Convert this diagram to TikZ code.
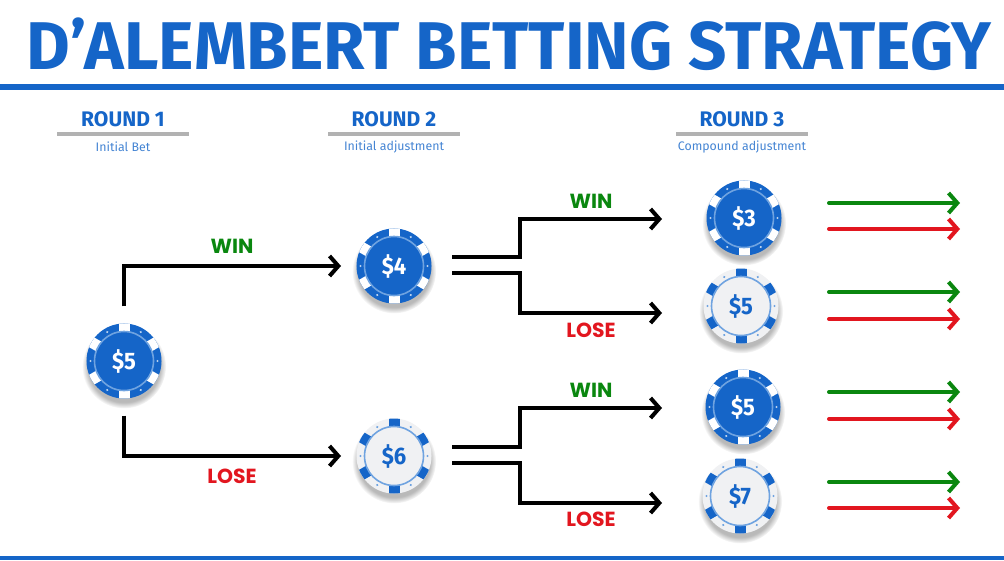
\documentclass[tikz,border=0pt]{standalone}
\usepackage{fontspec}
\setmainfont{Fira Sans}
\newfontfamily\tagfont{Poppins}
\usetikzlibrary{arrows.meta,shadows,fadings}

\definecolor{chipblue}{HTML}{1565C8}
\definecolor{chippale}{HTML}{F0F1F3}
\definecolor{ringblue}{HTML}{6FA3E0}
\definecolor{wingreen}{HTML}{0A870F}
\definecolor{losered}{HTML}{E2161F}

\tikzset{
  headtext/.style={font=\fontsize{15}{16}\selectfont\bfseries, text=chipblue, inner sep=0pt},
  subtext/.style={font=\fontsize{8.8}{10}\selectfont, text=chipblue!80, inner sep=0pt},
  headrule/.style={line width=0.085cm, draw=black!30},
  wintag/.style={font=\fontsize{14.5}{16}\selectfont\tagfont\bfseries, text=wingreen, inner sep=0pt},
  losetag/.style={font=\fontsize{14.5}{16}\selectfont\tagfont\bfseries, text=losered, inner sep=0pt},
  chipbody/.style={circle, minimum size=1.875cm, inner sep=0pt, circular drop shadow={shadow scale=1.12, shadow xshift=0cm, shadow yshift=-0.12cm, opacity=0.55}},
  chiptext/.style={font=\fontsize{17}{18}\selectfont\bfseries, inner sep=0pt, xscale=0.92},
  branch/.style={line width=0.1cm, draw=black, -{Straight Barb[length=0.22cm,width=0.5cm]}},
  winarrow/.style={line width=0.1cm, draw=wingreen, line cap=round, -{Straight Barb[length=0.22cm,width=0.5cm]}},
  losearrow/.style={line width=0.1cm, draw=losered, line cap=round, -{Straight Barb[length=0.22cm,width=0.5cm]}}
}

% chip: name, centre, face, stripes, marks, label colour, label
\newcommand{\chip}[7]{%
  \node[chipbody, fill=#3] (#1) at (#2) {};
  \begin{scope}[shift={(#2)}]
    \begin{scope}
      \clip circle (37.5);
      \foreach \a in {30,90,...,330}
        \fill[#4, rotate=\a] (29,-5.5) rectangle (38,5.5);
    \end{scope}
    \foreach \a in {0,60,...,300}
      \fill[#5, rotate=\a] (33.5,0) circle (1.2);
    \draw[ringblue, line width=0.04cm] (0,0) circle (29.5);
  \end{scope}
  \node[chiptext, text=#6] at (#2) {#7};
}

\begin{document}
\begin{tikzpicture}[x=0.025cm,y=-0.025cm]

\useasboundingbox (0,0) rectangle (1004,560);

% Title and rules

\node[font=\fontsize{48}{50}\selectfont\bfseries, text=chipblue, inner sep=0pt, xscale=0.995] (title) at (509,44) {D'ALEMBERT BETTING STRATEGY};
\fill[chipblue] (0,84) rectangle (1004,90);
\fill[chipblue] (0,556) rectangle (1004,560);

% Round headers

\node[headtext] (round1) at (123,119) {ROUND 1};
\draw[headrule] (57,134) -- (189,134);
\node[subtext] (sub1) at (123,147) {Initial Bet};

\node[headtext] (round2) at (394,119) {ROUND 2};
\draw[headrule] (328,134) -- (460,134);
\node[subtext] (sub2) at (394,147) {Initial adjustment};

\node[headtext] (round3) at (742,119) {ROUND 3};
\draw[headrule] (676,134) -- (808,134);
\node[subtext] (sub3) at (742,147) {Compound adjustment};

% Chips

\chip{start}{124,361}{chipblue}{white}{white!70!chipblue}{white}{\$5}
\chip{four}{394,266}{chipblue}{white}{white!70!chipblue}{white}{\$4}
\chip{six}{394,456}{chippale}{chipblue}{ringblue}{chipblue}{\$6}
\chip{three}{744,218}{chipblue}{white}{white!70!chipblue}{white}{\$3}
\chip{fiveA}{741,306}{chippale}{chipblue}{ringblue}{chipblue}{\$5}
\chip{fiveB}{743,407}{chipblue}{white}{white!70!chipblue}{white}{\$5}
\chip{seven}{740,496}{chippale}{chipblue}{ringblue}{chipblue}{\$7}

% Branches

\coordinate (fourup) at (452,257);
\coordinate (fourdown) at (452,273);
\coordinate (sixup) at (452,447);
\coordinate (sixdown) at (452,463);
\coordinate (tothree) at (662,219);
\coordinate (tofiveA) at (662,313);
\coordinate (tofiveB) at (662,408);
\coordinate (toseven) at (662,503);

\draw[branch, shorten <=0.42cm, shorten >=0.38cm] (start.north) |- (four.west);
\draw[branch, shorten <=0.42cm, shorten >=0.38cm] (start.south) |- (six.west);
\draw[branch] (fourup) -- ++(68,0) |- (tothree);
\draw[branch] (fourdown) -- ++(68,0) |- (tofiveA);
\draw[branch] (sixup) -- ++(68,0) |- (tofiveB);
\draw[branch] (sixdown) -- ++(68,0) |- (toseven);

\node[wintag] (win1) at (232,246) {WIN};
\node[losetag] (lose1) at (232,476) {LOSE};
\node[wintag] (win2) at (591,201) {WIN};
\node[losetag] (lose2) at (591,330) {LOSE};
\node[wintag] (win3) at (591,390) {WIN};
\node[losetag] (lose3) at (591,519) {LOSE};

% Arrows on the right

\foreach \n/\g/\r in {a/203/229, b/292/319, c/392/419, d/482/508} {
  \coordinate (g\n) at (829,\g);
  \coordinate (r\n) at (829,\r);
  \draw[winarrow] (g\n) -- ++(131,0);
  \draw[losearrow] (r\n) -- ++(131,0);
}

\end{tikzpicture}
\end{document}
